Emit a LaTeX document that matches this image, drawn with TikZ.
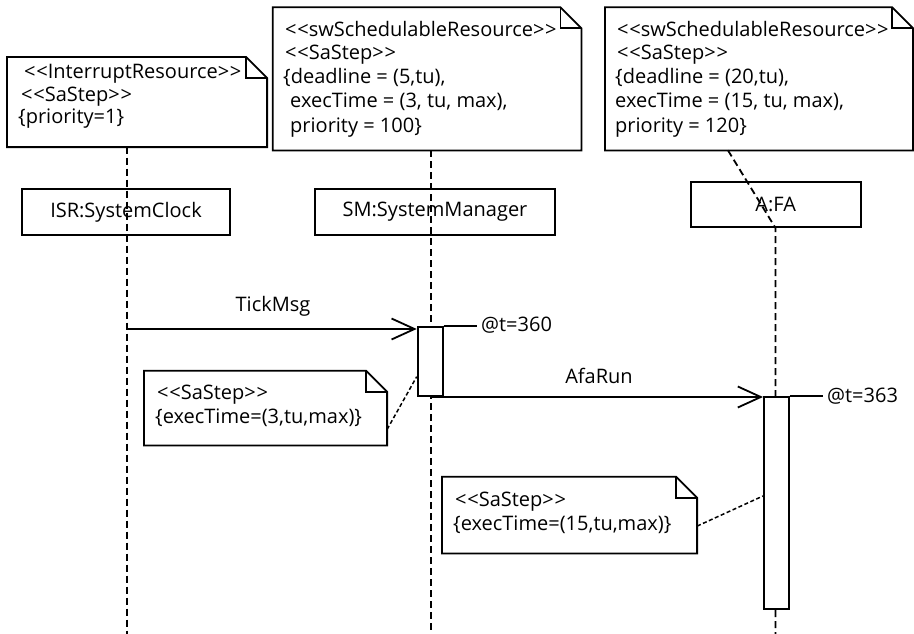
\documentclass[tikz,border=0pt]{standalone}
\usepackage{fontspec}
\setmainfont{Open Sans}
\usetikzlibrary{arrows.meta,calc}
\newcommand\stopen{<\kern0.7pt<}
\newcommand\stclose{>\kern0.7pt>}
\begin{document}
\begin{tikzpicture}[x=1pt,y=-1pt,
  font=\fontsize{20}{24}\selectfont,
  boxline/.style={line width=1.8pt},
  objbox/.style={draw, line width=1.8pt, fill=white, inner sep=0pt},
  notebg/.style={fill=white, inner sep=0pt, anchor=north west},
  actbox/.style={draw, fill=white, line width=1.8pt, inner sep=0pt, anchor=north west, minimum width=25pt},
  lifeline/.style={line width=1.8pt, dash pattern=on 7pt off 4pt},
  noteline/.style={line width=1.5pt, dash pattern=on 4pt off 2.5pt},
  msg/.style={line width=1.8pt, -{Straight Barb[length=23pt,width=21pt]}},
  txt/.style={anchor=base west, inner sep=0pt},
  stamp/.style={anchor=west, inner xsep=4pt, inner ysep=0pt}]
\useasboundingbox (0,0) rectangle (914,634);

% note outline with a folded corner
\newcommand\foldednote[1]{%
  \draw[boxline] (#1.north west) -- ([xshift=-21pt]#1.north east)
    -- ([yshift=-21pt]#1.north east) -- (#1.south east) -- (#1.south west) -- cycle;
  \draw[boxline] ([xshift=-21pt]#1.north east) |- ([yshift=-21pt]#1.north east);}

% ---- notes ----
\node[notebg, minimum width=259.7pt, minimum height=89.7pt] (n1) at (7,57) {};
\foldednote{n1}
\node[txt] (n1a) at (24,79) {\stopen InterruptResource\stclose};
\node[txt] (n1b) at (21,101.5) {\stopen SaStep\stclose};
\node[txt] (n1c) at (18,124) {\{priority=1\}};

\node[notebg, minimum width=308.3pt, minimum height=142.7pt] (n2) at (272.7,7.3) {};
\foldednote{n2}
\node[txt] (n2a) at (285,36.5) {\stopen swSchedulableResource\stclose};
\node[txt] (n2b) at (285,60) {\stopen SaStep\stclose};
\node[txt] (n2c) at (283,84) {\{deadline = (5,tu),};
\node[txt] (n2d) at (290,108) {execTime = (3, tu, max),};
\node[txt] (n2e) at (290,132) {priority = 100\}};

\node[notebg, minimum width=307.7pt, minimum height=142.7pt] (n3) at (605,7.3) {};
\foldednote{n3}
\node[txt] (n3a) at (617,36.5) {\stopen swSchedulableResource\stclose};
\node[txt] (n3b) at (617,60) {\stopen SaStep\stclose};
\node[txt] (n3c) at (615,84) {\{deadline = (20,tu),};
\node[txt] (n3d) at (615,108) {execTime = (15, tu, max),};
\node[txt] (n3e) at (615,132) {priority = 120\}};

\node[notebg, minimum width=242.7pt, minimum height=74.3pt] (n4) at (144,370.7) {};
\foldednote{n4}
\node[txt] (n4a) at (157,399) {\stopen SaStep\stclose};
\node[txt] (n4b) at (155,423) {\{execTime=(3,tu,max)\}};

\node[notebg, minimum width=254.7pt, minimum height=76.3pt] (n5) at (442,476.7) {};
\foldednote{n5}
\node[txt] (n5a) at (455,506) {\stopen SaStep\stclose};
\node[txt] (n5b) at (453,530.5) {\{execTime=(15,tu,max)\}};

% ---- objects ----
\node[objbox, minimum width=208pt, minimum height=46pt] (isr) at (126,212) {ISR:SystemClock};
\node[objbox, minimum width=240pt, minimum height=46pt] (sm) at (435,212) {SM:SystemManager};
\node[objbox, minimum width=170pt, minimum height=45pt] (fa) at (775.7,204.2) {A:FA};

% ---- lifelines ----
\coordinate (l1top) at (127,146.7);
\coordinate (l1end) at (127,634);
\coordinate (l2top) at (430.7,150);
\coordinate (l2end) at (430.7,634);
\coordinate (l3top) at ($(n3.south west)+(123,0)$);
\coordinate (l3bend) at (775.5,228);
\coordinate (l3end) at (775.5,634);
\draw[lifeline] (l1top) -- (l1end);
\draw[lifeline] (l2top) -- (l2end);
\draw[lifeline] (l3top) -- (l3bend) -- (l3end);

% ---- activations ----
\node[actbox, minimum height=69pt] (act1) at (416.7,326) {};
\node[actbox, minimum height=212pt] (act2) at (763,396) {};

% ---- messages ----
\coordinate (tickstart) at (127,329);
\draw[msg] (tickstart) -- (tickstart -| act1.west);
\node[anchor=base, inner sep=0pt] (tickmsg) at (273,311.7) {TickMsg};

\coordinate (afastart) at (430.7,397);
\draw[msg] (afastart) -- (afastart -| act2.west);
\node[anchor=base, inner sep=0pt] (afarun) at (599,383) {AfaRun};

% ---- time stamps ----
\node[stamp] (t360) at (477,325.5) {@t=360};
\draw[boxline] (act1.north east) -- (act1.north east -| t360.west);
\node[stamp] (t363) at (823,396.5) {@t=363};
\draw[boxline] (act2.north east) -- (act2.north east -| t363.west);

% ---- note anchors ----
\coordinate (n4tie) at ($(n4.south east)+(0,-16)$);
\coordinate (a1tie) at ($(act1.north west)+(0,50.7)$);
\draw[noteline] (n4tie) -- (a1tie);
\coordinate (n5tie) at ($(n5.south east)+(0,-27.3)$);
\coordinate (a2tie) at ($(act2.north west)+(0,100)$);
\draw[noteline] (n5tie) -- (a2tie);
\end{tikzpicture}
\end{document}
